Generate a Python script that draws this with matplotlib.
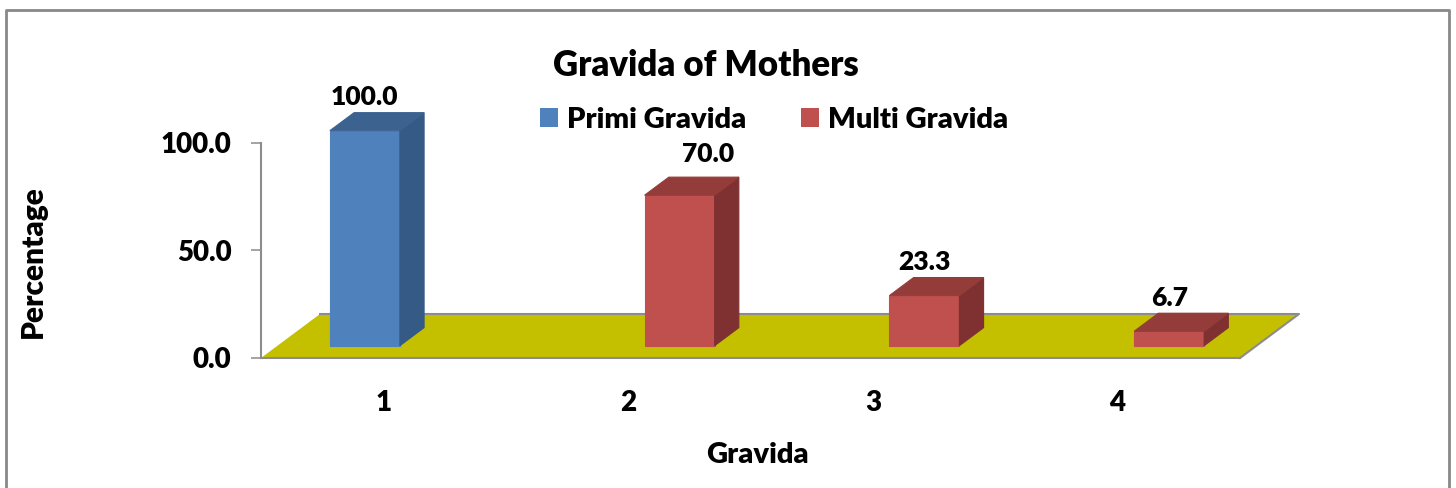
import matplotlib
matplotlib.use("Agg")
import matplotlib.pyplot as plt
from matplotlib.patches import Polygon, Patch
from matplotlib.lines import Line2D

# ---------------- data ----------------
categories = ["1", "2", "3", "4"]
series_names = ["Primi Gravida", "Multi Gravida"]
primi_values = [100.0, None, None, None]
multi_values = [None, 70.0, 23.3, 6.7]
y_ticks = [0.0, 50.0, 100.0]
title = "Gravida of Mothers"
x_label = "Gravida"
y_label = "Percentage"

# ---------------- style ----------------
W, H = 1456, 488
FONT = ["Lato", "DejaVu Sans"]
WEIGHT = "heavy"
plt.rcParams["font.family"] = FONT
plt.rcParams["font.weight"] = WEIGHT

colors = {
    "Primi Gravida": ("#4F81BD", "#3C6390", "#345A85"),   # front, top, side
    "Multi Gravida": ("#C0504D", "#943C3A", "#7E3130"),
}
floor_color = "#C4C000"
grey = "#8C8C8C"

fig = plt.figure(figsize=(W / 100, H / 100), dpi=100)

def fx(px):
    return px / W

def fy(py):
    return 1 - py / H

# axes: category axis 0.5..4.5 between px 261..1240, value axis 0..100 between px 358..143
ax_l, ax_r, ax_t, ax_b = 261, 1240, 143, 358
ax = fig.add_axes([fx(ax_l), fy(ax_b), (ax_r - ax_l) / W, (ax_b - ax_t) / H])
ax.set_xlim(0.5, len(categories) + 0.5)
ax.set_ylim(0, 100)
ax.patch.set_alpha(0)

# 3-D depth geometry (in data units)
px_x = (ax_r - ax_l) / len(categories)
px_y = (ax_b - ax_t) / 100.0
depth_dx, depth_dy = 59 / px_x, 44 / px_y
bar_front_frac = 0.28
bar_depth_frac = 0.41
bar_width = 70 / px_x

# floor
n = len(categories)
floor = Polygon([(0.5, 0), (n + 0.5, 0), (n + 0.5 + depth_dx, depth_dy), (0.5 + depth_dx, depth_dy)],
                closed=True, facecolor=floor_color, edgecolor="none", clip_on=False, zorder=1)
ax.add_patch(floor)
ax.add_line(Line2D([0.5 + depth_dx, n + 0.5 + depth_dx, n + 0.5], [depth_dy, depth_dy, 0],
                   color=grey, lw=1.5, clip_on=False, zorder=1.5))

def draw_box(x_left, value, name, z):
    front, top, side = colors[name]
    sx = bar_front_frac * depth_dx
    sy = bar_front_frac * depth_dy
    bx = bar_depth_frac * depth_dx
    by = bar_depth_frac * depth_dy
    x0 = x_left + sx
    x1 = x0 + bar_width
    y0 = sy
    y1 = sy + value
    ax.add_patch(Polygon([(x0, y0), (x1, y0), (x1, y1), (x0, y1)], closed=True,
                         facecolor=front, edgecolor=front, lw=0.8, clip_on=False, zorder=z))
    ax.add_patch(Polygon([(x1, y0), (x1 + bx, y0 + by), (x1 + bx, y1 + by), (x1, y1)], closed=True,
                         facecolor=side, edgecolor=side, lw=0.8, clip_on=False, zorder=z))
    ax.add_patch(Polygon([(x0, y1), (x1, y1), (x1 + bx, y1 + by), (x0 + bx, y1 + by)], closed=True,
                         facecolor=top, edgecolor=top, lw=0.8, clip_on=False, zorder=z))
    return (x0 + x1) / 2, y1 + by

label_shift = {1: (0.115, 3.7)}  # category index -> (dx, dy) nudge of the data label

all_series = [("Primi Gravida", primi_values, -1), ("Multi Gravida", multi_values, 0)]
for name, vals, slot in all_series:
    for i, v in enumerate(vals):
        if v is None:
            continue
        c = i + 1
        xl = c + slot * bar_width
        cx, top_y = draw_box(xl, v, name, 3 + i)
        ddx, ddy = label_shift.get(i, (0.0, 0.0))
        ax.text(cx + ddx, top_y + 1.5 + ddy, f"{v:.1f}", ha="center", va="bottom",
                fontsize=19, fontweight=WEIGHT, color="black", clip_on=False, zorder=10)

# axes styling
for s in ["top", "right"]:
    ax.spines[s].set_visible(False)
ax.spines["left"].set_color(grey)
ax.spines["left"].set_linewidth(1.5)
ax.spines["left"].set_bounds(0, 100)
ax.spines["bottom"].set_color(grey)
ax.spines["bottom"].set_linewidth(1.5)
ax.spines["bottom"].set_zorder(2)

ax.set_yticks(y_ticks)
ax.set_yticklabels([f"{t:.1f}" for t in y_ticks])
ax.tick_params(axis="y", direction="out", length=7.2, width=1.1, color=grey, pad=14,
               labelsize=20)
ax.set_xticks(range(1, n + 1))
ax.set_xticklabels(categories)
ax.tick_params(axis="x", length=0, pad=23, labelsize=20)
for lbl in ax.get_xticklabels() + ax.get_yticklabels():
    lbl.set_fontweight(WEIGHT)

# titles
fig.text(fx(706), fy(66), title, ha="center", va="center", fontsize=25, fontweight=WEIGHT)
fig.text(fx(33), fy(262), y_label, ha="center", va="center", rotation=90,
         fontsize=21.5, fontweight=WEIGHT)
fig.text(fx(757), fy(455), x_label, ha="center", va="center", fontsize=21, fontweight=WEIGHT)

# legend
handles = [Patch(facecolor=colors[nm][0], edgecolor="none") for nm in series_names]
leg = fig.legend(handles, series_names, loc="center", bbox_to_anchor=(fx(774), fy(120)),
                 ncol=2, frameon=False, fontsize=21, handlelength=0.62, handleheight=0.62,
                 handletextpad=0.3, columnspacing=1.9, borderaxespad=0, borderpad=0)
for t in leg.get_texts():
    t.set_fontweight(WEIGHT)

# outer chart border
fig.add_artist(Line2D([fx(6), fx(6), fx(1449), fx(1449)], [fy(495), fy(10), fy(10), fy(495)],
                      transform=fig.transFigure, color="#888888", lw=2))

fig.savefig("out.png", dpi=100)
